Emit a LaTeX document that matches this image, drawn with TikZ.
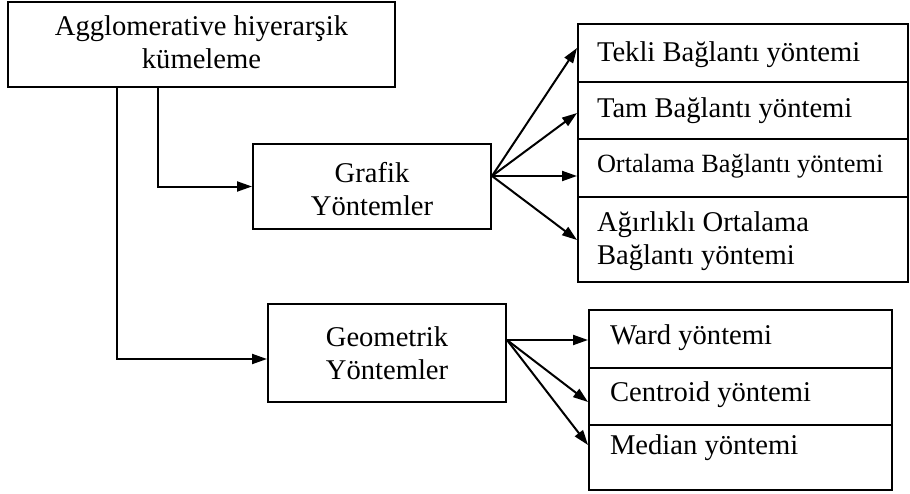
\documentclass[tikz,border=0pt]{standalone}
\usepackage{fontspec}
\setmainfont{Liberation Serif}
\usetikzlibrary{arrows.meta}
\begin{document}
\begin{tikzpicture}[x=1pt,y=-1pt,line width=2pt,
  font=\fontsize{28.6}{33}\selectfont,
  box/.style={draw,inner sep=0pt},
  cell/.style={draw,inner sep=0pt,minimum width=#1},
  celltext/.style={anchor=base west,inner sep=0pt},
  arr/.style={-{Triangle[length=15pt,width=10pt]},line width=2pt}]
\useasboundingbox (0,0) rectangle (910,493);

% main boxes (text placed with a top-aligned parbox; text height/depth set the baseline)
\node[box,minimum width=387pt,minimum height=85pt,text height=10pt,text depth=29pt]
  (top) at (201.5,44.5)
  {\parbox[t]{387pt}{\centering Agglomerative hiyerarşik\\kümeleme}};
\node[box,minimum width=238pt,minimum height=85pt,text height=10pt,text depth=19pt]
  (grafik) at (372,186.5)
  {\parbox[t]{238pt}{\centering Grafik\\Yöntemler}};
\node[box,minimum width=238pt,minimum height=98pt,text height=10pt,text depth=24pt]
  (geo) at (387,353)
  {\parbox[t]{238pt}{\centering Geometrik\\Yöntemler}};

% upper stack
\node[cell=330pt,minimum height=58pt,
  label={[celltext,xshift=19pt,yshift=-38pt]north west:Tekli Bağlantı yöntemi}]
  (t1) at (743,53) {};
\node[cell=330pt,minimum height=57pt,
  label={[celltext,xshift=19pt,yshift=-36pt]north west:Tam Bağlantı yöntemi}]
  (t2) at (743,110.5) {};
\node[cell=330pt,minimum height=58pt,
  label={[celltext,xshift=19pt,yshift=-34pt,font=\fontsize{26.3}{31}\selectfont]north west:Ortalama Bağlantı yöntemi}]
  (t3) at (743,168) {};
\node[cell=330pt,minimum height=85pt,
  label={[celltext,xshift=19pt,yshift=-35pt]north west:\parbox[t]{300pt}{\raggedright Ağırlıklı Ortalama\\Bağlantı yöntemi}}]
  (t4) at (743,239.5) {};

% lower stack
\node[cell=303pt,minimum height=58pt,
  label={[celltext,xshift=21pt,yshift=-35pt]north west:Ward yöntemi}]
  (b1) at (740.5,339) {};
\node[cell=303pt,minimum height=57pt,
  label={[celltext,xshift=21pt,yshift=-34pt]north west:Centroid yöntemi}]
  (b2) at (740.5,396.5) {};
\node[cell=303pt,minimum height=65pt,
  label={[celltext,xshift=21pt,yshift=-30pt]north west:Median yöntemi}]
  (b3) at (740.5,457.5) {};

% elbow connectors
\draw[arr] ([xshift=-43.5pt]top.south) |- (grafik.west);
\draw[arr] ([xshift=-84.5pt]top.south) |- ([yshift=-6pt]geo.west);

% fans
\coordinate (gf) at ([yshift=10.5pt]grafik.east);
\draw[arr] (gf) -- ([yshift=5pt]t1.west);
\draw[arr] (gf) -- ([yshift=-2.5pt]t2.west);
\draw[arr] (gf) -- ([yshift=-8pt]t3.west);
\draw[arr] (gf) -- ([yshift=-0.5pt]t4.west);

\coordinate (gm) at ([yshift=13pt]geo.east);
\draw[arr] (gm) -- ([yshift=-1pt]b1.west);
\draw[arr] (gm) -- ([yshift=-5.5pt]b2.west);
\draw[arr] (gm) -- ([yshift=12.5pt]b3.west);
\end{tikzpicture}
\end{document}
